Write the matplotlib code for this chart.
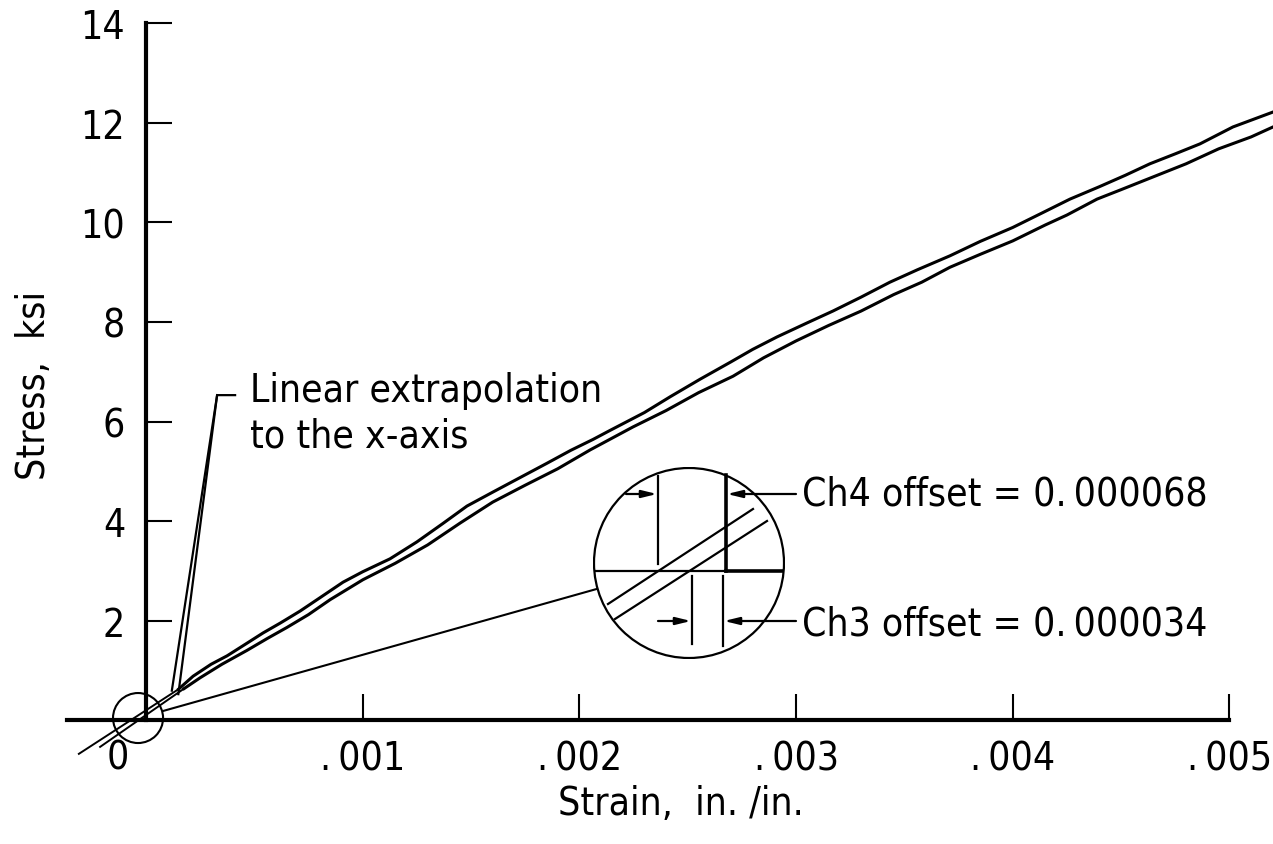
import matplotlib
matplotlib.use('Agg')
import matplotlib.pyplot as plt
from matplotlib import font_manager as fm
from matplotlib.patches import Ellipse, Circle, ConnectionPatch

# look for a narrow face, the original lettering is condensed
narrow = None
for f in fm.fontManager.ttflist:
    if f.style != 'normal' or f.weight not in (400, 'normal', 'regular', 'book'):
        continue
    if 'Narrow' in f.name or 'Condensed' in f.name or f.stretch in ('condensed', 'semi-condensed'):
        narrow = f
        break

if narrow is not None:
    plt.rcParams['font.family'] = [narrow.name, 'DejaVu Sans']
    if narrow.stretch in ('condensed', 'semi-condensed'):
        plt.rcParams['font.stretch'] = narrow.stretch
    FS = 28
else:
    plt.rcParams['font.family'] = ['DejaVu Sans']
    FS = 24

# channel 4 (upper curve), strain in./in. vs stress ksi
ch4_strain = [0.000150, 0.000217, 0.000300, 0.000374, 0.000450, 0.000540, 0.000620,
              0.000711, 0.000800, 0.000909, 0.001000, 0.001126, 0.001250, 0.001370,
              0.001481, 0.001600, 0.001712, 0.001850, 0.001960, 0.002063, 0.002141,
              0.002300, 0.002420, 0.002557, 0.002700, 0.002800, 0.002912, 0.003050,
              0.003170, 0.003300, 0.003433, 0.003560, 0.003710, 0.003850, 0.004000,
              0.004130, 0.004264, 0.004400, 0.004520, 0.004633, 0.004750, 0.004864,
              0.005016, 0.005201]
ch4_stress = [0.62, 0.88, 1.12, 1.29, 1.50, 1.75, 1.95,
              2.19, 2.45, 2.77, 2.98, 3.24, 3.58, 3.95,
              4.30, 4.58, 4.84, 5.16, 5.42, 5.64, 5.82,
              6.18, 6.50, 6.85, 7.20, 7.45, 7.70, 7.98,
              8.22, 8.50, 8.80, 9.05, 9.33, 9.62, 9.90,
              10.18, 10.47, 10.72, 10.95, 11.18, 11.38, 11.58,
              11.92, 12.22]

# channel 3 (lower curve)
ch3_strain = [0.000175, 0.000250, 0.000350, 0.000466, 0.000560, 0.000650, 0.000750,
              0.000850, 0.001001, 0.001150, 0.001300, 0.001450, 0.001600, 0.001750,
              0.001900, 0.002050, 0.002247, 0.002400, 0.002550, 0.002709, 0.002850,
              0.003000, 0.003150, 0.003300, 0.003450, 0.003580, 0.003710, 0.003850,
              0.004000, 0.004150, 0.004250, 0.004389, 0.004500, 0.004650, 0.004800,
              0.004950, 0.005100, 0.005201]
ch3_stress = [0.63, 0.85, 1.12, 1.40, 1.64, 1.86, 2.12,
              2.42, 2.82, 3.15, 3.52, 3.96, 4.38, 4.72,
              5.05, 5.43, 5.89, 6.22, 6.58, 6.91, 7.28,
              7.62, 7.93, 8.22, 8.55, 8.80, 9.10, 9.36,
              9.63, 9.95, 10.15, 10.47, 10.66, 10.92, 11.18,
              11.48, 11.72, 11.92]

# linear extrapolation lines
ch4_fit_strain = [-0.00031, 0.000150]
ch4_fit_stress = [-0.68, 0.62]
ch3_fit_strain = [-0.000212, 0.000175]
ch3_fit_stress = [-0.54, 0.63]

ch4_offset = 0.000068
ch3_offset = 0.000034

y_ticks = [2, 4, 6, 8, 10, 12, 14]
x_ticks = [0.001, 0.002, 0.003, 0.004, 0.005]
x_labels = ['.\u2009001', '.\u2009002', '.\u2009003', '.\u2009004', '.\u2009005']

fig = plt.figure(figsize=(12.73, 8.45), dpi=100)
ax = fig.add_axes([0, 0, 1, 1])
ax.set_xlim(-0.000674, 0.005201)
ax.set_ylim(-2.492, 14.492)
ax.patch.set_visible(False)

for s in ['top', 'right']:
    ax.spines[s].set_visible(False)
ax.spines['left'].set_position(('data', 0))
ax.spines['bottom'].set_position(('data', 0))
ax.spines['left'].set_bounds(0, 14)
ax.spines['bottom'].set_bounds(-0.000365, 0.005)
ax.spines['left'].set_linewidth(3)
ax.spines['bottom'].set_linewidth(3)

ax.set_yticks(y_ticks)
ax.set_yticklabels([str(v) for v in y_ticks])
ax.set_xticks(x_ticks)
ax.set_xticklabels(x_labels)
ax.tick_params(axis='both', direction='in', length=19, width=1.5, labelsize=FS)
ax.tick_params(axis='y', pad=15)
ax.tick_params(axis='x', pad=14)
ax.text(-0.000129, -0.38, '0', ha='center', va='top', fontsize=FS)

ax.set_xlabel('Strain,  in. /in.', fontsize=FS)
ax.xaxis.set_label_coords(681 / 1273, 1 - 804 / 845)
ax.xaxis.label.set_va('center')
ax.set_ylabel('Stress,  ksi', fontsize=FS)
ax.yaxis.set_label_coords(34 / 1273, 1 - 385 / 845)
ax.yaxis.label.set_va('center')

# curves
ax.plot(ch4_strain, ch4_stress, color='black', lw=2.2, clip_on=False)
ax.plot(ch3_strain, ch3_stress, color='black', lw=2.2, clip_on=False)
ax.plot(ch4_fit_strain, ch4_fit_stress, color='black', lw=1.4)
ax.plot(ch3_fit_strain, ch3_fit_stress, color='black', lw=1.4)

# leader for the note
ax.plot([0.000411, 0.000328, 0.000119], [6.53, 6.53, 0.59], color='black', lw=1.6)
ax.plot([0.000328, 0.000149], [6.53, 0.52], color='black', lw=1.6)
ax.text(0.00048, 7.01, 'Linear extrapolation\nto the x-axis', fontsize=FS,
        va='top', ha='left', linespacing=1.25)

# small circle at origin
zoom_spot = Ellipse((-0.0000369, 0.04), 0.000231, 1.005, fill=False, ec='black', lw=1.5)
ax.add_patch(zoom_spot)

# magnified detail
axin = fig.add_axes([593 / 1273, (845 - 660) / 845, 192 / 1273, 192 / 845])
axin.set_xlim(-133, 59)
axin.set_ylim(-88, 104)
axin.axis('off')
lens = Circle((-37, 8), 95, fill=False, ec='black', lw=1.6)
axin.add_patch(lens)

o4 = ch4_offset * 1e6
o3 = ch3_offset * 1e6
axin.plot([-130, 0], [0, 0], color='black', lw=1.6)
axin.plot([0, 56], [0, 0], color='black', lw=2.6)
axin.plot([0, 0], [0, 96], color='black', lw=2.6)
axin.plot([-o4, -o4], [7, 95], color='black', lw=1.6)
axin.plot([-o3, -o3], [-5, -73], color='black', lw=1.6)
axin.plot([-3, -3], [-5, -75], color='black', lw=1.6)
axin.plot([-118, 27], [-33.0, 62.0], color='black', lw=1.6)
axin.plot([-111, 41], [-48.0, 50.0], color='black', lw=1.6)

arrow = dict(arrowstyle='-|>,head_length=0.9,head_width=0.22', color='black',
             lw=1.6, shrinkA=0, shrinkB=0)
axin.annotate('', xy=(-o4 - 1, 77), xytext=(-100, 77), arrowprops=arrow)
axin.annotate('', xy=(1, 77), xytext=(70, 77), arrowprops=arrow)
axin.annotate('', xy=(-o3 - 1, -50), xytext=(-68, -50), arrowprops=arrow)
axin.annotate('', xy=(-2, -50), xytext=(70, -50), arrowprops=arrow)
axin.text(76, 77, 'Ch4 offset = 0.\u2009000068', fontsize=FS, va='center', ha='left')
axin.text(76, -52, 'Ch3 offset = 0.\u2009000034', fontsize=FS, va='center', ha='left')

con = ConnectionPatch(xyA=(-0.0000369, 0.04), coordsA=ax.transData,
                      xyB=(-37, 8), coordsB=axin.transData,
                      arrowstyle='-', patchA=zoom_spot, patchB=lens,
                      color='black', lw=1.5, shrinkA=0, shrinkB=0)
fig.add_artist(con)

fig.savefig('out.png', dpi=100)
